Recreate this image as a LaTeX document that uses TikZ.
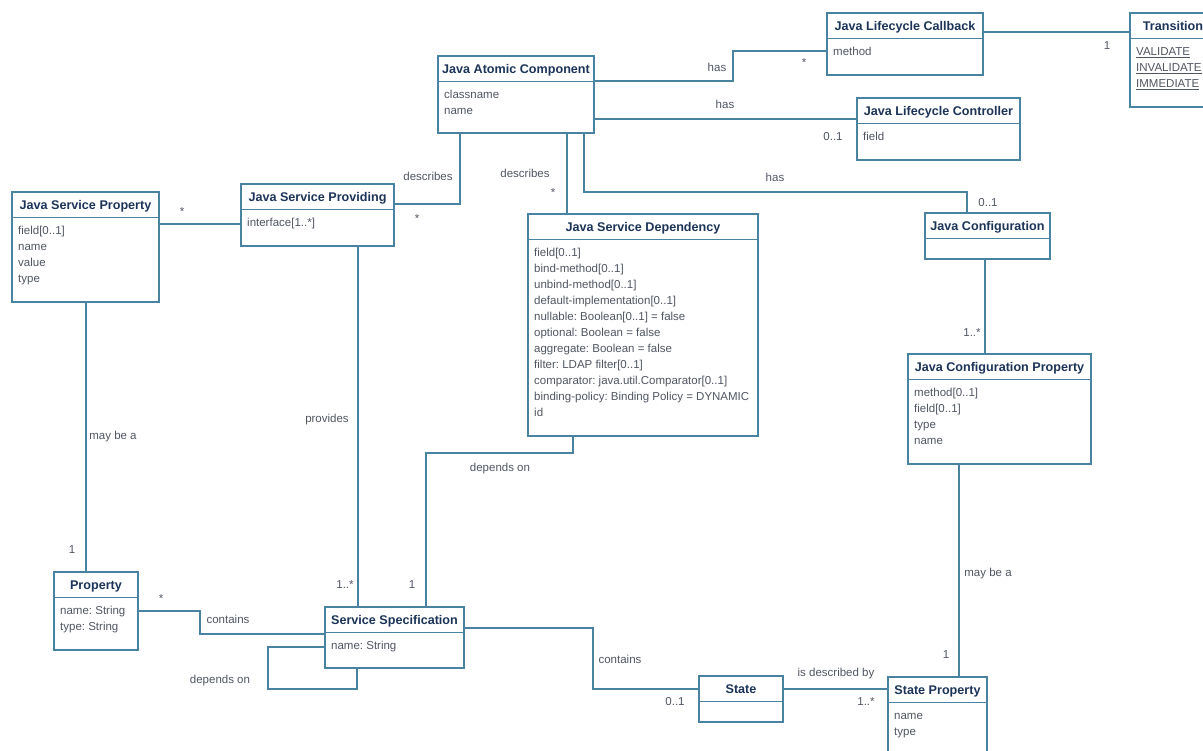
\documentclass[tikz,border=0pt]{standalone}
\usepackage{fontspec}
\setmainfont{Liberation Sans}
\usetikzlibrary{calc}
\definecolor{umlline}{RGB}{72,132,162}
\definecolor{umltitle}{RGB}{28,52,88}
\definecolor{umltext}{RGB}{80,86,98}
\frenchspacing

\newcommand{\umlclass}[7]{%
  \node[classbox,minimum width=#4pt,minimum height=#5pt] (#1) at (#2,#3) {};
  \draw[assoc] (#2,#3+25.5) -- (#2+#4,#3+25.5);
  \node[classtitle] at (#2+#4/2,#3+17.5) {#6};
  \foreach \clsattr [count=\k from 0] in {#7}
    \node[classattr] at (#2+6,#3+42.5+16*\k) {\clsattr};
}

\begin{document}
\begin{tikzpicture}[x=1pt,y=-1pt,
  classbox/.style={draw=umlline,line width=1.1pt,fill=white,anchor=north west,inner sep=0pt,outer sep=0pt},
  classtitle/.style={anchor=base,text=umltitle,font=\bfseries\fontsize{12.6}{14}\selectfont,inner sep=0pt},
  classattr/.style={anchor=base west,text=umltext,font=\fontsize{11.5}{13}\selectfont\frenchspacing,inner sep=0pt},
  assoc/.style={draw=umlline,line width=1.1pt},
  lbl/.style={text=umltext,font=\fontsize{11.5}{13}\selectfont,inner sep=0pt}]

\useasboundingbox[fill=white] (0,0) rectangle (1203,751);

\umlclass{atomic}{438}{56}{156}{77}{Java Atomic Component}{classname,name}
\umlclass{callback}{827}{13}{156}{62}{Java Lifecycle Callback}{method}
\umlclass{transition}{1130}{13}{86}{94}{Transition}{\underline{VALIDATE},\underline{INVALIDATE},\underline{IMMEDIATE}}
\umlclass{controller}{857}{98}{163}{62}{Java Lifecycle Controller}{field}
\umlclass{jconfig}{925}{213}{125}{46}{Java Configuration}{}
\umlclass{jcp}{908}{354}{183}{110}{Java Configuration Property}{method[0..1],field[0..1],type,name}
\umlclass{jsd}{528}{214}{230}{222}{Java Service Dependency}{field[0..1],bind-method[0..1],unbind-method[0..1],default-implementation[0..1],nullable: Boolean[0..1] = false,optional: Boolean = false,aggregate: Boolean = false,filter: LDAP filter[0..1],comparator: java.util.Comparator[0..1],binding-policy: Binding Policy = DYNAMIC,id}
\umlclass{jsp}{241}{184}{153}{62}{Java Service Providing}{interface[1..*]}
\umlclass{jsprop}{12}{192}{147}{110}{Java Service Property}{field[0..1],name,value,type}
\umlclass{property}{54}{572}{84}{78}{Property}{name: String,type: String}
\umlclass{ss}{325}{607}{139}{61}{Service Specification}{name: String}
\umlclass{state}{699}{676}{84}{46}{State}{}
\umlclass{sprop}{888}{677}{99}{90}{State Property}{name,type}

\draw[assoc] (atomic.east |- 0,81) -- (733,81) |- (callback.west |- 0,51);
\node[lbl] at (717,67) {has};
\node[lbl] at (804,63) {*};

\draw[assoc] (atomic.east |- 0,119) -- (controller.west |- 0,119);
\node[lbl] at (725,104) {has};
\node[lbl] at (833,137) {0..1};

\draw[assoc] (atomic.south -| 584,0) -- (584,192) -| (jconfig.north -| 967,0);
\node[lbl] at (775,177) {has};
\node[lbl] at (988,203) {0..1};

\draw[assoc] (atomic.south -| 567,0) -- (jsd.north -| 567,0);
\node[lbl] at (525,173) {describes};
\node[lbl] at (553,193) {*};

\draw[assoc] (atomic.south -| 460,0) |- (jsp.east |- 0,204);
\node[lbl] at (428,176) {describes};
\node[lbl] at (417,219) {*};

\draw[assoc] (callback.east |- 0,32) -- (transition.west |- 0,32);
\node[lbl] at (1107,46) {1};

\draw[assoc] (jconfig.south -| 985,0) -- (jcp.north -| 985,0);
\node[lbl] at (972,333) {1..*};

\draw[assoc] (jsprop.east |- 0,224) -- (jsp.west |- 0,224);
\node[lbl] at (182,212) {*};

\draw[assoc] (jsprop.south -| 86,0) -- (property.north -| 86,0);
\node[lbl] at (113,437) {may be a};
\node[lbl] at (72,550) {1};

\draw[assoc] (jsp.south -| 358,0) -- (ss.north -| 358,0);
\node[lbl] at (327,420) {provides};
\node[lbl] at (345,585) {1..*};

\draw[assoc] (jsd.south -| 573,0) -- (573,453) -| (ss.north -| 426,0);
\node[lbl] at (500,469) {depends on};
\node[lbl] at (412,585) {1};

\draw[assoc] (property.east |- 0,611) -- (200,611) |- (ss.west |- 0,634);
\node[lbl] at (228,619) {contains};
\node[lbl] at (161,599) {*};

\draw[assoc] (ss.west |- 0,647) -| (268,689) -| (ss.south -| 357,0);
\node[lbl] at (220,681) {depends on};

\draw[assoc] (ss.east |- 0,628) -- (593,628) |- (state.west |- 0,689);
\node[lbl] at (620,659) {contains};
\node[lbl] at (675,702) {0..1};

\draw[assoc] (state.east |- 0,689) -- (sprop.west |- 0,689);
\node[lbl] at (836,674) {is described by};
\node[lbl] at (866,702) {1..*};

\draw[assoc] (jcp.south -| 959,0) -- (sprop.north -| 959,0);
\node[lbl] at (988,574) {may be a};
\node[lbl] at (946,655) {1};
\end{tikzpicture}
\end{document}
